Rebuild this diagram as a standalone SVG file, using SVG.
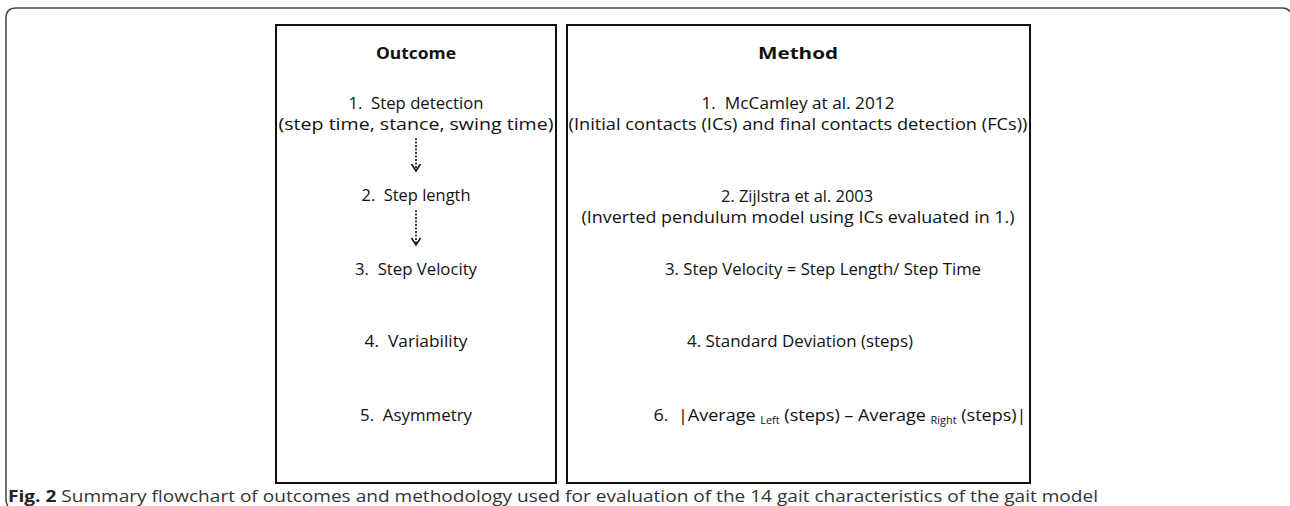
<svg xmlns="http://www.w3.org/2000/svg" width="1290" height="506" viewBox="0 0 1290 506">
<style>
.box{fill:none;stroke:#111;stroke-width:2}
.t{font-family:"Open Sans","Noto Sans",sans-serif;font-size:16.5px;fill:#111;text-anchor:middle;white-space:pre}
.b{font-weight:bold}
.cap{font-family:"Open Sans","Noto Sans",sans-serif;font-size:15.5px;fill:#333}
.arr{fill:none;stroke:#111;stroke-width:1.6}
.dot{stroke-dasharray:2 1.5}
</style>
<rect width="1290" height="506" fill="#fff"/>
<path d="M8,506 Q6,504 6,498 V18 Q6,8 16,8 H1282 Q1288,8 1290,12" fill="none" stroke="#444" stroke-width="1.5"/>
<g id="outcome">
<rect class="box" x="276" y="25" width="280" height="458"/>
<text class="t b" x="416" y="59" textLength="80" lengthAdjust="spacingAndGlyphs">Outcome</text>
<text class="t" x="416" y="109" textLength="135" lengthAdjust="spacingAndGlyphs" xml:space="preserve">1.  Step detection</text>
<text class="t" x="416" y="130" textLength="275" lengthAdjust="spacingAndGlyphs">(step time, stance, swing time)</text>
<text class="t" x="416" y="201" textLength="109" lengthAdjust="spacingAndGlyphs" xml:space="preserve">2.  Step length</text>
<text class="t" x="416" y="275" textLength="122" lengthAdjust="spacingAndGlyphs" xml:space="preserve">3.  Step Velocity</text>
<text class="t" x="416" y="347" textLength="103" lengthAdjust="spacingAndGlyphs" xml:space="preserve">4.  Variability</text>
<text class="t" x="416" y="421" textLength="112" lengthAdjust="spacingAndGlyphs" xml:space="preserve">5.  Asymmetry</text>
</g>
<g id="method">
<rect class="box" x="567" y="25" width="463" height="458"/>
<text class="t b" x="798" y="59" textLength="80" lengthAdjust="spacingAndGlyphs">Method</text>
<text class="t" x="798" y="109" textLength="193" lengthAdjust="spacingAndGlyphs" xml:space="preserve">1.  McCamley at al. 2012</text>
<text class="t" x="798" y="130" textLength="459" lengthAdjust="spacingAndGlyphs">(Initial contacts (ICs) and final contacts detection (FCs))</text>
<text class="t" x="797" y="202" textLength="152" lengthAdjust="spacingAndGlyphs">2. Zijlstra et al. 2003</text>
<text class="t" x="798" y="223" textLength="433" lengthAdjust="spacingAndGlyphs">(Inverted pendulum model using ICs evaluated in 1.)</text>
<text class="t" x="823" y="275" textLength="316" lengthAdjust="spacingAndGlyphs">3. Step Velocity = Step Length/ Step Time</text>
<text class="t" x="800" y="347" textLength="226" lengthAdjust="spacingAndGlyphs">4. Standard Deviation (steps)</text>
<text class="t" x="840" y="421" textLength="373" lengthAdjust="spacingAndGlyphs" xml:space="preserve">6.  |Average <tspan font-size="10" dy="3">Left</tspan><tspan dy="-3"> (steps) – Average </tspan><tspan font-size="10" dy="3">Right</tspan><tspan dy="-3"> (steps)|</tspan></text>
</g>
<g id="connectors">
<line class="arr dot" x1="416" y1="138" x2="416" y2="170"/>
<polyline class="arr" points="411.5,164 416,171 420.5,164"/>
<line class="arr dot" x1="416" y1="210" x2="416" y2="244"/>
<polyline class="arr" points="411.5,238 416,245 420.5,238"/>
</g>
<text class="cap" x="8" y="502" textLength="1090" lengthAdjust="spacingAndGlyphs"><tspan font-weight="bold" fill="#222">Fig. 2</tspan> Summary flowchart of outcomes and methodology used for evaluation of the 14 gait characteristics of the gait model</text>
</svg>
